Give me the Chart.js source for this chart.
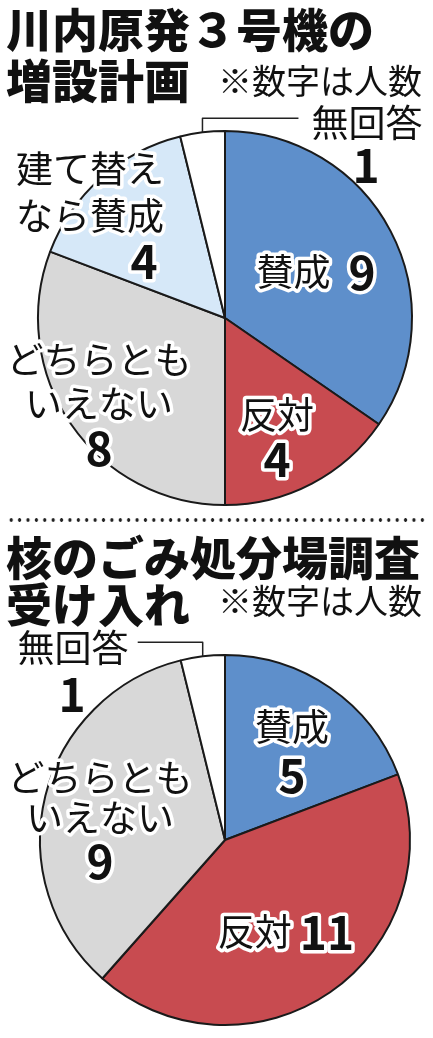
<!DOCTYPE html>
<html lang="ja">
<head>
<meta charset="utf-8">
<script src="https://cdn.jsdelivr.net/npm/chart.js@4"></script>
<style>
body {
  margin: 0;
  background: #fff;
  width: 433px;
  height: 1038px;
  position: relative;
  overflow: hidden;
  font-family: "Noto Sans CJK JP", sans-serif;
  color: #111;
}
canvas { position: absolute; left: 0; }
.title {
  position: absolute;
  left: 6px;
  font-size: 46px;
  font-weight: 900;
  line-height: 1;
  white-space: nowrap;
}
.note {
  position: absolute;
  left: 218px;
  font-size: 34px;
  line-height: 1;
  white-space: nowrap;
}
.dots {
  position: absolute;
  left: 7px;
  top: 517px;
  width: 420px;
  height: 6px;
  background-image: radial-gradient(circle, #222 1.5px, transparent 2px);
  background-size: 8.4px 6px;
}
</style>
</head>
<body>
<canvas id="pie1" width="433" height="515" style="top:0"></canvas>
<canvas id="pie2" width="433" height="518" style="top:520px"></canvas>

<div class="title" style="top:4px">川内原発３号機の</div>
<div class="title" style="top:55px">増設計画</div>
<div class="note" style="top:63px">※数字は人数</div>
<div class="dots"></div>
<div class="title" style="top:532px">核のごみ処分場調査</div>
<div class="title" style="top:579px">受け入れ</div>
<div class="note" style="top:583px">※数字は人数</div>

<script>
// 川内原発3号機の増設計画
const categories1 = ["賛成", "反対", "どちらともいえない", "建て替えなら賛成", "無回答"];
const values1 = [9, 4, 8, 4, 1];
const nameLines1 = [["賛成"], ["反対"], ["どちらとも", "いえない"], ["建て替え", "なら賛成"], ["無回答"]];

// 核のごみ処分場調査受け入れ
const categories2 = ["賛成", "反対", "どちらともいえない", "無回答"];
const values2 = [5, 11, 9, 1];
const nameLines2 = [["賛成"], ["反対"], ["どちらとも", "いえない"], ["無回答"]];

const BLUE = "#5e8fcb";
const RED = "#c84b50";
const GRAY = "#d8d8d8";
const LIGHT = "#d6e8f8";

// label placement, offsets from the pie centre (px)
const place1 = [
  { x: 91, y: -46, inline: true, gap: 18 },
  { x: 52, y: 97, step: 45 },
  { x: -126, y: 42, step: 44, numStep: 45 },
  { x: -135, y: -149, step: 47, num: [-81, -56] },
  { x: 142, y: -195, num: [141, -152], outside: true, lead: 96 },
];
const place2 = [
  { x: 67, y: -113, step: 49 },
  { x: 61, y: 92, inline: true, gap: 8 },
  { x: -125, y: -62, step: 40, numStep: 44 },
  { x: -152, y: -192, num: [-153, -145], outside: true, lead: -65 },
];

const NAME_FONT = '37px "Noto Sans CJK JP"';
const NUM_FONT = 'bold 46px "Noto Sans CJK JP"';

function haloText(ctx, text, x, y, font, halo) {
  ctx.font = font;
  if (halo) {
    ctx.lineWidth = 7;
    ctx.strokeStyle = "#fff";
    ctx.lineJoin = "round";
    ctx.strokeText(text, x, y);
  }
  ctx.fillStyle = "#111";
  ctx.fillText(text, x, y);
}

const sliceLabels = {
  id: "sliceLabels",
  afterDraw(chart, args, opts) {
    const ctx = chart.ctx;
    const meta = chart.getDatasetMeta(0);
    const data = chart.data.datasets[0].data;
    ctx.save();
    ctx.textAlign = "center";
    ctx.textBaseline = "middle";
    meta.data.forEach((arc, i) => {
      const p = opts.place[i];
      const lines = opts.names[i];
      const num = String(data[i]);
      const cx = arc.x + p.x;
      const cy = arc.y + p.y;
      const halo = !p.outside;

      if (p.outside) {
        // leader from the middle of the slice's rim
        const mid = (arc.startAngle + arc.endAngle) / 2;
        const ex = arc.x + Math.cos(mid) * arc.outerRadius;
        const ey = arc.y + Math.sin(mid) * arc.outerRadius;
        ctx.beginPath();
        ctx.moveTo(ex, ey);
        ctx.lineTo(ex, ey - 14);
        ctx.lineTo(ex + p.lead, ey - 14);
        ctx.strokeStyle = "#222";
        ctx.lineWidth = 1.5;
        ctx.stroke();
      }

      if (p.inline) {
        ctx.font = NAME_FONT;
        const wName = ctx.measureText(lines[0]).width;
        ctx.font = NUM_FONT;
        const wNum = ctx.measureText(num).width;
        const left = cx - (wName + p.gap + wNum) / 2;
        ctx.textAlign = "left";
        haloText(ctx, lines[0], left, cy, NAME_FONT, halo);
        haloText(ctx, num, left + wName + p.gap, cy + 1, NUM_FONT, halo);
        ctx.textAlign = "center";
        return;
      }

      lines.forEach((t, k) => {
        haloText(ctx, t, cx, cy + k * (p.step || 0), NAME_FONT, halo);
      });
      let nx, ny;
      if (p.num) {
        nx = arc.x + p.num[0];
        ny = arc.y + p.num[1];
      } else {
        nx = cx;
        ny = cy + (lines.length - 1) * (p.step || 0) + (p.numStep || p.step);
      }
      haloText(ctx, num, nx, ny, NUM_FONT, halo);
    });
    ctx.restore();
  },
};

function makePie(id, categories, values, colors, radius, padTop, names, place) {
  new Chart(document.getElementById(id), {
    type: "pie",
    data: {
      labels: categories,
      datasets: [
        {
          data: values,
          backgroundColor: colors,
          borderColor: "#1a1a1a",
          borderWidth: 2,
          radius: radius,
        },
      ],
    },
    options: {
      responsive: false,
      animation: false,
      layout: { padding: { left: 17, right: 0, top: padTop, bottom: 0 } },
      plugins: {
        legend: { display: false },
        tooltip: { enabled: false },
        sliceLabels: { names: names, place: place },
      },
    },
    plugins: [sliceLabels],
  });
}

document.fonts.load(NUM_FONT).then(() => document.fonts.load(NAME_FONT)).then(() => {
  makePie("pie1", categories1, values1, [BLUE, RED, GRAY, LIGHT, "#fff"], 187, 121, nameLines1, place1);
  makePie("pie2", categories2, values2, [BLUE, RED, GRAY, "#fff"], 185, 122, nameLines2, place2);
});
</script>
</body>
</html>
